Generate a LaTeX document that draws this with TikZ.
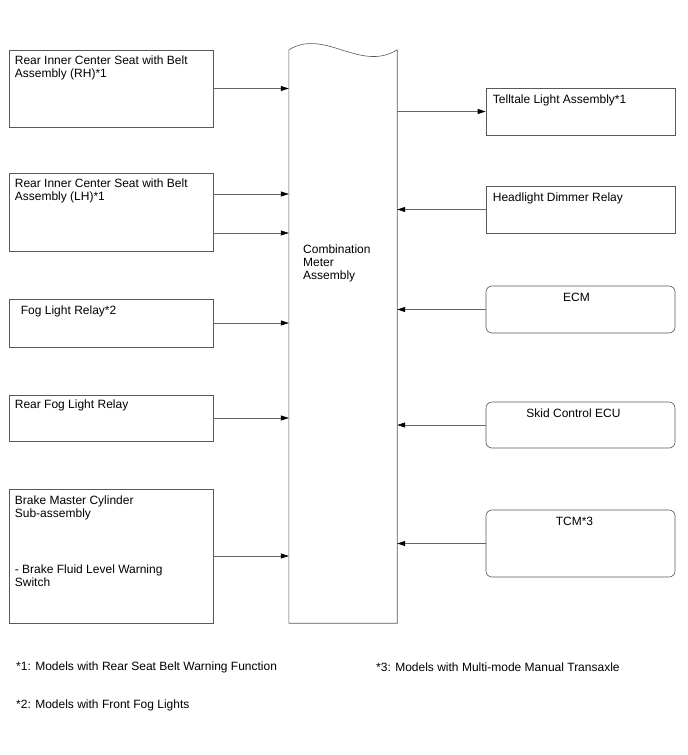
\documentclass[tikz,border=0pt]{standalone}
\usepackage{fontspec}
\setmainfont{Liberation Sans}
\usetikzlibrary{positioning, arrows.meta}

\begin{document}
\begin{tikzpicture}[
    x=1pt, y=-1pt,
    box/.style={rectangle, draw=black!65, line width=0.6pt, inner sep=0pt, minimum width=204pt},
    rbox/.style={box, minimum width=189pt},
    roundbox/.style={rbox, rounded corners=6pt},
    outline/.style={draw=black!65, line width=0.6pt},
    txt/.style={inner sep=0pt, align=left, anchor=north west},
    arrow/.style={-{Triangle[length=8pt, width=5pt, color=black]}, draw=black!60, line width=0.6pt},
    every node/.style={font=\fontsize{12}{12.5}\selectfont}
]
    \useasboundingbox (0,0) rectangle (688,755);

    % left column
    \node[box, minimum height=77pt] (rh) at (111,88.5) {};
    \node[box, minimum height=78pt] (lh) at (111,212) {};
    \node[box, minimum height=48pt] (fog) at (111,323) {};
    \node[box, minimum height=46pt] (rearfog) at (111,418) {};
    \node[box, minimum height=134pt] (brake) at (111,556) {};

    % combination meter
    \node[inner sep=0pt, minimum width=108pt, minimum height=573pt] (meter) at (343,336.5) {};
    \draw[outline] (meter.north west) .. controls +(36,-22) and +(-37,23) .. (meter.north east)
        -- (meter.south east) -- (meter.south west) -- cycle;
    \node[txt, font=\fontsize{12}{13}\selectfont] (metertext) at (303,245) {Combination\\Meter\\Assembly};

    % right column
    \node[rbox, minimum height=47pt] (tell) at (580.5,111.5) {};
    \node[rbox, minimum height=47pt] (head) at (580.5,209.5) {};
    \node[roundbox, minimum height=47pt] (ecm) at (580.5,309.5) {};
    \node[roundbox, minimum height=46pt] (skid) at (580.5,425) {};
    \node[roundbox, minimum height=67pt] (tcm) at (580.5,543.5) {};

    % box texts
    \node[txt, below right=6pt and 6pt of rh.north west] (rhtext) {Rear Inner Center Seat with Belt\\Assembly (RH)*1};
    \node[txt, below right=6pt and 6pt of lh.north west] (lhtext) {Rear Inner Center Seat with Belt\\Assembly (LH)*1};
    \node[txt, below right=7pt and 12pt of fog.north west] (fogtext) {Fog Light Relay*2};
    \node[txt, below right=5pt and 6pt of rearfog.north west] (rearfogtext) {Rear Fog Light Relay};
    \node[txt, below right=7pt and 6pt of brake.north west] (braketext) {Brake Master Cylinder\\Sub-assembly\\[44pt]- Brake Fluid Level Warning\\Switch};
    \node[txt, below right=7pt and 7pt of tell.north west] (telltext) {Telltale Light Assembly*1};
    \node[txt, below right=7pt and 7pt of head.north west] (headtext) {Headlight Dimmer Relay};
    \node[inner sep=0pt, below=7pt of ecm.north, xshift=-4pt] (ecmtext) {ECM};
    \node[inner sep=0pt, below=7pt of skid.north, xshift=-7pt] (skidtext) {Skid Control ECU};
    \node[inner sep=0pt, below=7pt of tcm.north, xshift=-6pt] (tcmtext) {TCM*3};

    % connections
    \draw[arrow] (rh.east) -- (rh.east -| meter.west);
    \draw[arrow] ([yshift=18pt]lh.east) -- ([yshift=18pt]lh.east -| meter.west);
    \draw[arrow] ([yshift=-21pt]lh.east) -- ([yshift=-21pt]lh.east -| meter.west);
    \draw[arrow] (fog.east) -- (fog.east -| meter.west);
    \draw[arrow] (rearfog.east) -- (rearfog.east -| meter.west);
    \draw[arrow] (brake.east) -- (brake.east -| meter.west);
    \draw[arrow] (tell.west -| meter.east) -- (tell.west);
    \draw[arrow] (head.west) -- (head.west -| meter.east);
    \draw[arrow] (ecm.west) -- (ecm.west -| meter.east);
    \draw[arrow] (skid.west) -- (skid.west -| meter.east);
    \draw[arrow] (tcm.west) -- (tcm.west -| meter.east);

    % notes
    \node[txt, anchor=west] (note1) at (16,667) {*1: Models with Rear Seat Belt Warning Function};
    \node[txt, anchor=west] (note3) at (376,667) {*3: Models with Multi-mode Manual Transaxle};
    \node[txt, anchor=west] (note2) at (16,705) {*2: Models with Front Fog Lights};
\end{tikzpicture}
\end{document}
